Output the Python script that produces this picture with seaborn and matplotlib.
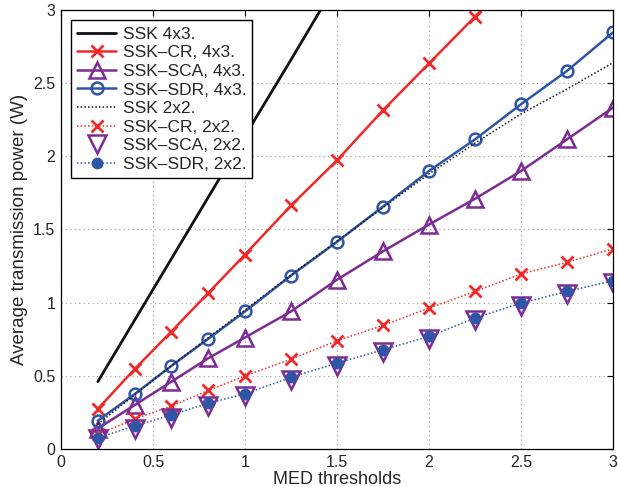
import matplotlib
matplotlib.use("Agg")
import matplotlib.pyplot as plt
import seaborn as sns
import numpy as np

# ---- data ----
med = [0.2, 0.4, 0.6, 0.8, 1.0, 1.25, 1.5, 1.75, 2.0, 2.25, 2.5, 2.75, 3.0]
med_ssk43 = [0.2, 0.4, 0.6, 0.8, 1.0, 1.25, 1.5]
ssk_4x3 = [0.46, 0.88, 1.30, 1.72, 2.14, 2.66, 3.19]
cr_4x3 = [0.274, 0.546, 0.803, 1.066, 1.329, 1.664, 1.973, 2.315, 2.635, 2.955, 3.28, 3.60, 3.93]
sca_4x3 = [0.14, 0.30, 0.46, 0.62, 0.762, 0.94, 1.157, 1.351, 1.534, 1.71, 1.90, 2.116, 2.333]
sdr_4x3 = [0.194, 0.375, 0.568, 0.753, 0.940, 1.185, 1.416, 1.657, 1.90, 2.116, 2.356, 2.584, 2.847]
ssk_2x2 = [0.17, 0.37, 0.57, 0.76, 0.95, 1.19, 1.42, 1.65, 1.88, 2.09, 2.29, 2.46, 2.64]
cr_2x2 = [0.10, 0.205, 0.294, 0.40, 0.50, 0.614, 0.74, 0.845, 0.963, 1.077, 1.196, 1.276, 1.368]
sca_2x2 = [0.07, 0.14, 0.215, 0.295, 0.36, 0.475, 0.57, 0.66, 0.75, 0.88, 0.98, 1.06, 1.135]
sdr_2x2 = [0.077, 0.157, 0.233, 0.313, 0.377, 0.49, 0.587, 0.678, 0.769, 0.895, 0.997, 1.077, 1.15]

xticks = [0, 0.5, 1, 1.5, 2, 2.5, 3]
yticks = [0, 0.5, 1, 1.5, 2, 2.5, 3]

RED = "#EE2A2A"
PURPLE = "#7D2C92"
BLUE = "#2F56A6"
BLACK = "#111111"

sns.set_style("white")
plt.rcParams['font.family'] = ['Liberation Sans', 'DejaVu Sans']

fig = plt.figure(figsize=(6.18, 4.87), dpi=100)
ax = fig.add_axes([0.0987, 0.078, 0.8933, 0.9015])

dot = (0, (1, 1.4))

sns.lineplot(x=med_ssk43, y=ssk_4x3, ax=ax, color=BLACK, lw=2, linestyle="-",
             label="SSK 4x3.")
sns.lineplot(x=med, y=cr_4x3, ax=ax, color=RED, lw=1.8, linestyle="-", marker="x",
             markersize=9, mew=2, markeredgecolor=RED, label="SSK\u2013CR, 4x3.")
sns.lineplot(x=med, y=sca_4x3, ax=ax, color=PURPLE, lw=1.8, linestyle="-", marker="^",
             markersize=12, mew=1.8, markerfacecolor="none", markeredgecolor=PURPLE,
             label="SSK\u2013SCA, 4x3.")
sns.lineplot(x=med, y=sdr_4x3, ax=ax, color=BLUE, lw=1.8, linestyle="-", marker="o",
             markersize=8.5, mew=1.8, markerfacecolor="none", markeredgecolor=BLUE,
             label="SSK\u2013SDR, 4x3.")
sns.lineplot(x=med, y=ssk_2x2, ax=ax, color=BLACK, lw=1.1, linestyle=dot, label="SSK 2x2.")
sns.lineplot(x=med, y=cr_2x2, ax=ax, color=RED, lw=1.1, linestyle=dot, marker="x",
             markersize=9, mew=2, markeredgecolor=RED, label="SSK\u2013CR, 2x2.")
sns.lineplot(x=med, y=sca_2x2, ax=ax, color=PURPLE, linestyle="none", marker="v",
             markersize=13, mew=1.8, markerfacecolor="none", markeredgecolor=PURPLE,
             label="SSK\u2013SCA, 2x2.")
sns.lineplot(x=med, y=sdr_2x2, ax=ax, color=BLUE, lw=1.1, linestyle=dot, marker="o",
             markersize=8.5, mew=0, markerfacecolor=BLUE, markeredgecolor=BLUE,
             label="SSK\u2013SDR, 2x2.")

ax.set_xlim(0, 3)
ax.set_ylim(0, 3)
ax.set_xticks(xticks)
ax.set_yticks(yticks)
ax.set_xticklabels([f"{t:g}" for t in xticks])
ax.set_yticklabels([f"{t:g}" for t in yticks])
ax.tick_params(direction="in", length=4, width=0.8, top=True, right=True,
               labelsize=11.5, color="black", pad=4)
ax.grid(True, color="0.6", linestyle=(0, (1, 3)), lw=0.8)
for s in ax.spines.values():
    s.set_color("black")
    s.set_linewidth(0.9)
    s.set_visible(True)

ax.set_xlabel("MED thresholds", fontsize=13, labelpad=1)
ax.set_ylabel("Average transmission power (W)", fontsize=13.5, labelpad=4)

leg = ax.legend(loc="upper left", fontsize=12.5, frameon=True, fancybox=False,
                edgecolor="black", framealpha=1, handlelength=2.2, labelspacing=0.2,
                borderaxespad=0.6, borderpad=0.35, handletextpad=0.4)
leg.get_frame().set_linewidth(1.0)

fig.savefig("out.png", dpi=100)
